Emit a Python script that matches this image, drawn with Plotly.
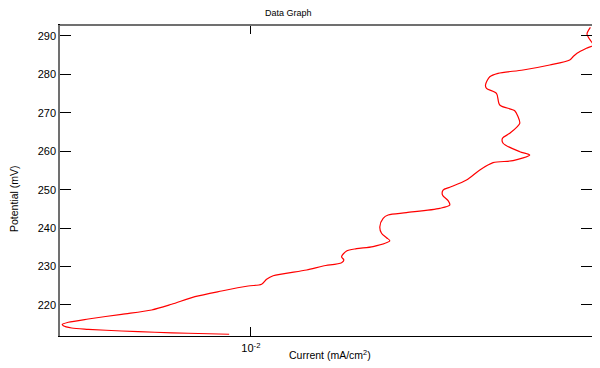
import plotly.graph_objects as go

# Current (mA/cm^2) and Potential (mV)
current = [
    0.008824, 0.006970, 0.005754, 0.004750, 0.003920, 0.003562, 0.003395, 0.003375,
    0.003494, 0.003920, 0.004750, 0.005646, 0.006335, 0.007244, 0.008447, 0.009846,
    0.010635, 0.010946, 0.011369, 0.013782, 0.015158, 0.016859, 0.017083, 0.016859,
    0.017350, 0.018378, 0.020216, 0.022260, 0.021841, 0.021222, 0.021016, 0.021419,
    0.022045, 0.024502, 0.029683, 0.031445, 0.031139, 0.030150, 0.030254, 0.031445,
    0.034619, 0.037371, 0.040350, 0.045267, 0.049831, 0.047043, 0.042739, 0.042592,
    0.044417, 0.047043, 0.046585, 0.045709, 0.041928, 0.041140, 0.038842, 0.038619,
    0.039582, 0.041520, 0.047961, 0.055912, 0.062734, 0.063938, 0.065427, 0.069064,
    0.072028, 0.071080, 0.069303, 0.070671,
]
potential = [
    212.38, 212.64, 212.90, 213.23, 213.68, 214.02, 214.61, 214.98,
    215.50, 216.36, 217.58, 218.70, 220.18, 222.16, 223.64, 224.94,
    225.39, 226.69, 227.62, 229.11, 230.15, 231.01, 231.71, 232.57,
    234.05, 234.65, 235.17, 236.73, 237.51, 238.66, 240.37, 242.56,
    243.42, 244.02, 245.16, 246.02, 247.14, 248.62, 249.92, 250.63,
    252.53, 255.13, 257.03, 257.55, 259.03, 259.89, 262.08, 263.38,
    264.68, 267.28, 269.00, 270.56, 272.04, 275.09, 276.39, 277.25,
    279.41, 280.29, 281.15, 282.45, 283.75, 284.61, 285.50, 286.80,
    287.66, 288.51, 290.52, 292.26,
]

x_tickvals = [0.01]
x_ticktext = ["10<sup>-2</sup>"]
y_tickvals = [220, 230, 240, 250, 260, 270, 280, 290]

FONT = "Liberation Sans, Arial, sans-serif"

# page has an 8px body margin; figure is sized to fit the 600x368 window
OFF = 8
W, H = 592, 360
l, r, t, b = 52, 8, 17, 32
pw, ph = W - l - r, H - t - b


def to_paper(px, py):
    fx, fy = px - OFF, py - OFF
    return (fx - l) / pw, (H - b - fy) / ph


fig = go.Figure()
fig.add_trace(go.Scatter(
    x=current, y=potential, mode="lines",
    line=dict(color="#ff0000", width=1.2, shape="spline", smoothing=0.8),
    hoverinfo="skip", showlegend=False,
))

ann = []
for text, px, py, size, angle in [
    ("Data Graph", 288, 13, 9, 0),
    ("Current (mA/cm<sup>2</sup>)", 330, 354, 10.5, 0),
    ("Potential (mV)", 14, 199, 10.5, -90),
]:
    ax, ay = to_paper(px, py)
    ann.append(dict(text=text, x=ax, y=ay, xref="paper", yref="paper",
                    xanchor="center", yanchor="middle", showarrow=False,
                    textangle=angle, font=dict(family=FONT, size=size, color="black")))

fig.update_layout(
    width=W, height=H,
    margin=dict(l=l, r=r, t=t, b=b, autoexpand=False),
    paper_bgcolor="white", plot_bgcolor="white",
    font=dict(family=FONT, size=11, color="black"),
    showlegend=False,
    xaxis=dict(
        type="log", range=[-2.4775, -1.14675],
        tickvals=x_tickvals, ticktext=x_ticktext,
        ticks="inside", ticklen=9, tickwidth=1, tickcolor="black",
        showline=True, linecolor="black", linewidth=1,
        mirror="ticks", showgrid=False, zeroline=False,
        ticklabelstandoff=2,
        tickfont=dict(family=FONT, size=11, color="black"),
    ),
    yaxis=dict(
        range=[211.93, 292.86],
        tickvals=y_tickvals,
        ticks="inside", ticklen=11, tickwidth=1, tickcolor="black",
        showline=True, linecolor="#707070", linewidth=1.5,
        mirror="ticks", showgrid=False, zeroline=False,
        tickfont=dict(family=FONT, size=11, color="black"),
    ),
    annotations=ann,
    shapes=[
        dict(type="line", xref="paper", yref="paper", x0=0, x1=1, y0=1, y1=1,
             line=dict(color="#707070", width=2)),
    ],
)

fig.write_html("out.html")
